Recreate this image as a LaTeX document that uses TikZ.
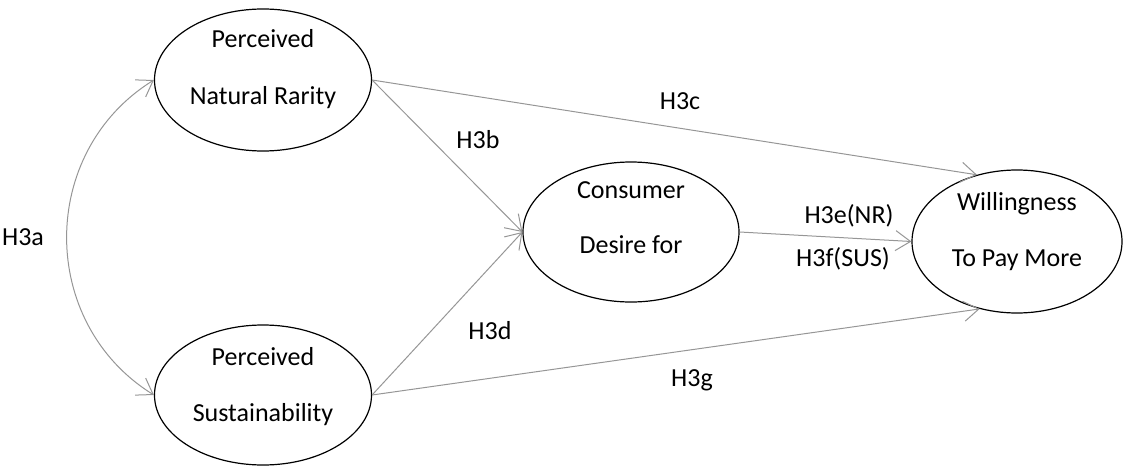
\documentclass[tikz,border=0pt]{standalone}
\usepackage{fontspec}
\setmainfont{Carlito}
\usetikzlibrary{arrows.meta,calc,shapes.geometric}
\definecolor{linkgray}{RGB}{150,150,150}
\tikzset{
  construct/.style={ellipse,draw=black,line width=1.2pt,inner sep=0pt,
    minimum width=217pt,minimum height=142pt},
  txt/.style={anchor=base,inner sep=0pt,font=\fontsize{26}{30}\selectfont},
  path/.style={draw=linkgray,line width=1pt,
    -{Straight Barb[length=15pt,width=20pt]}},
  cov/.style={draw=linkgray,line width=1pt,
    {Straight Barb[length=15pt,width=20pt]}-{Straight Barb[length=15pt,width=20pt]}}
}
\begin{document}
\begin{tikzpicture}[x=1pt,y=-1pt]
\useasboundingbox (0,0) rectangle (1123,468);

% latent constructs
\node[construct] (nr)  at (263,80)    {};
\node[construct,minimum height=140pt] (ps)  at (263,395)   {};
\node[construct,minimum width=216pt,minimum height=140pt] (cd)  at (631,232)   {};
\node[construct,minimum width=210pt,minimum height=143pt] (wtp) at (1017,241.5) {};

% construct names
\node[txt] (nr1)  at ($(nr)+(0,-32)$)  {Perceived};
\node[txt] (nr2)  at ($(nr)+(0,25)$)   {Natural Rarity};
\node[txt] (ps1)  at ($(ps)+(0,-30)$)  {Perceived};
\node[txt] (ps2)  at ($(ps)+(0,26)$)   {Sustainability};
\node[txt] (cd1)  at ($(cd)+(0,-34)$)  {Consumer};
\node[txt] (cd2)  at ($(cd)+(0,21)$)   {Desire for};
\node[txt] (wtp1) at ($(wtp)+(0,-31)$) {Willingness};
\node[txt] (wtp2) at ($(wtp)+(0,25)$)  {To Pay More};

% structural paths
\draw[path] (nr.east) -- (wtp.121);
\draw[path] (nr.east) -- (cd.west);
\draw[path] (ps.east) -- (cd.west);
\draw[path] (ps.east) -- (wtp.241);
\draw[path] (cd.east) -- (wtp.west);
\draw[cov] (nr.west) .. controls +(-116,72) and +(-116,-72) .. (ps.west);

% hypothesis labels
\node[txt] (h3a) at (23,245)  {H3a};
\node[txt] (h3b) at (478,148) {H3b};
\node[txt] (h3c) at (680,110) {H3c};
\node[txt] (h3d) at (490,339) {H3d};
\node[txt] (h3e) at (849,223) {H3e(NR)};
\node[txt] (h3f) at (843,266) {H3f(SUS)};
\node[txt] (h3g) at (692,386) {H3g};
\end{tikzpicture}
\end{document}
